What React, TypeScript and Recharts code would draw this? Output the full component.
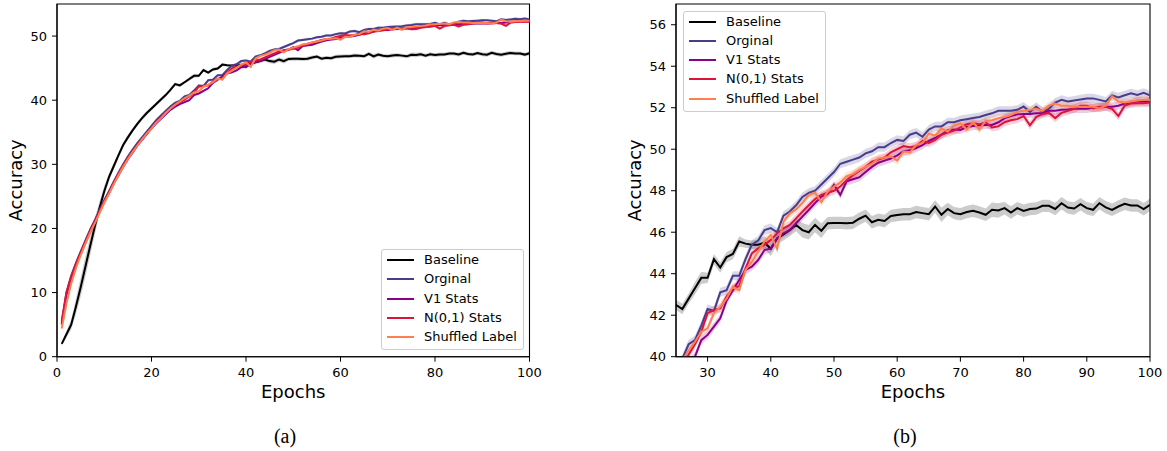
import React from 'react';
import { ComposedChart, Line, Area, XAxis, YAxis, Legend, ReferenceArea, Label } from 'recharts';

// ---------- data ----------
const epochs: number[] = Array.from({ length: 100 }, (_, i) => i + 1);

const seriesNames = ['Baseline', 'Orginal', 'V1 Stats', 'N(0,1) Stats', 'Shuffled Label'];
const seriesKeys = ['baseline', 'orginal', 'v1', 'n01', 'shuffled'];
const seriesColors = ['#000000', '#483D8B', '#8B008B', '#DC143C', '#FF7F50'];

const baseline = [
  2.0, 3.5, 5.0, 7.8, 10.8, 14.0, 17.2, 20.3, 23.2, 25.8,
  28.0, 29.7, 31.4, 33.0, 34.2, 35.3, 36.3, 37.2, 38.0, 38.7,
  39.4, 40.1, 40.8, 41.6, 42.5, 42.3, 42.8, 43.3, 43.8, 43.8,
  44.7, 44.3, 44.8, 44.95, 45.55, 45.45, 45.4, 45.4, 45.5, 45.2,
  45.7, 45.9, 46.1, 46.35, 46.1, 46.0, 46.35, 46.07, 46.43, 46.45,
  46.45, 46.43, 46.46, 46.65, 46.8, 46.48, 46.6, 46.54, 46.78, 46.83,
  46.87, 46.87, 46.97, 46.92, 46.87, 47.24, 46.84, 47.12, 46.92, 46.87,
  46.97, 47.03, 46.95, 46.84, 47.08, 47.05, 47.16, 46.95, 47.16, 47.03,
  47.12, 47.14, 47.27, 47.27, 47.12, 47.4, 47.19, 47.14, 47.35, 47.16,
  47.08, 47.4, 47.2, 47.08, 47.24, 47.37, 47.29, 47.29, 47.11, 47.32,
];

const orginal = [
  5.2, 10.0, 12.6, 14.6, 16.4, 18.1, 19.8, 21.3, 22.9, 24.4,
  25.8, 27.3, 28.7, 30.0, 31.2, 32.3, 33.3, 34.2, 35.1, 36.0,
  36.9, 37.6, 38.3, 39.0, 39.6, 39.9, 40.6, 40.8, 41.5, 42.3,
  42.2, 43.1, 43.2, 43.9, 43.9, 44.7, 45.4, 45.6, 46.1, 46.2,
  46.0, 46.8, 47.0, 47.3, 47.7, 47.9, 48.0, 48.3, 48.6, 48.9,
  49.3, 49.4, 49.5, 49.6, 49.8, 49.9, 50.1, 50.1, 50.3, 50.45,
  50.4, 50.7, 50.8, 50.6, 50.95, 51.1, 51.1, 51.3, 51.3, 51.4,
  51.45, 51.5, 51.55, 51.65, 51.73, 51.85, 51.85, 51.85, 51.9, 52.06,
  51.8, 52.05, 51.8, 51.95, 52.25, 52.38, 52.3, 52.35, 52.4, 52.45,
  52.45, 52.38, 52.3, 52.6, 52.5, 52.6, 52.7, 52.62, 52.72, 52.6,
];

const v1Stats = [
  5.0, 9.6, 12.2, 14.2, 16.0, 17.7, 19.4, 21.0, 22.6, 24.1,
  25.5, 27.0, 28.3, 29.6, 30.8, 31.8, 32.9, 33.8, 34.7, 35.6,
  36.4, 37.1, 37.8, 38.5, 39.0, 39.4, 39.7, 40.0, 40.8, 41.05,
  41.45, 41.85, 42.7, 43.2, 43.7, 44.18, 44.34, 44.66, 45.14, 45.22,
  45.7, 45.95, 46.1, 46.43, 46.75, 47.07, 47.4, 47.72, 47.85, 48.28,
  47.8, 48.45, 48.55, 48.65, 48.9, 49.15, 49.35, 49.45, 49.55, 49.7,
  49.9, 49.95, 50.05, 50.2, 50.4, 50.55, 50.7, 50.9, 50.95, 50.93,
  51.07, 51.12, 51.15, 51.17, 51.17, 51.3, 51.5, 51.6, 51.68, 51.7,
  51.7, 51.73, 51.75, 51.85, 51.85, 51.9, 51.92, 51.95, 51.95, 51.95,
  52.0, 52.0, 52.05, 52.05, 52.1, 52.2, 52.25, 52.3, 52.3, 52.3,
];

const n01Stats = [
  5.6, 10.0, 12.5, 14.4, 16.2, 17.9, 19.6, 21.1, 22.7, 24.2,
  25.6, 27.1, 28.5, 29.8, 31.0, 32.0, 33.0, 33.9, 34.8, 35.7,
  36.6, 37.3, 38.0, 38.7, 39.3, 39.7, 40.1, 40.6, 41.2, 42.1,
  42.25, 42.33, 42.9, 43.3, 43.4, 44.26, 44.98, 45.22, 45.39, 45.63,
  45.95, 46.19, 46.35, 46.67, 46.99, 47.3, 47.6, 47.8, 47.9, 48.0,
  48.2, 48.5, 48.75, 48.95, 49.15, 49.4, 49.5, 49.6, 49.85, 50.0,
  50.15, 50.1, 50.15, 50.4, 50.3, 50.45, 50.7, 50.8, 50.9, 51.05,
  51.2, 51.25, 51.2, 51.3, 51.05, 51.1, 51.3, 51.4, 51.45, 51.6,
  51.15, 51.55, 51.7, 51.75, 51.5, 51.75, 51.85, 51.95, 52.1, 52.1,
  51.97, 52.05, 52.05, 51.95, 51.6, 52.1, 52.2, 52.22, 52.22, 52.25,
];

const shuffledLabel = [
  4.4, 8.3, 11.4, 13.8, 15.8, 17.6, 19.3, 20.8, 22.4, 24.0,
  25.4, 26.9, 28.3, 29.6, 30.8, 31.9, 32.9, 33.9, 34.8, 35.6,
  36.5, 37.2, 38.0, 38.7, 39.3, 39.8, 40.3, 40.72, 41.2, 41.37,
  42.1, 42.4, 42.8, 43.38, 43.2, 44.18, 44.58, 45.06, 45.55, 45.87,
  45.2, 46.5, 46.91, 47.1, 47.4, 47.8, 47.9, 47.45, 47.95, 48.2,
  48.4, 48.7, 48.8, 49.0, 49.15, 49.3, 49.55, 49.6, 49.65, 49.45,
  49.9, 49.85, 50.2, 50.3, 50.75, 50.65, 51.0, 50.85, 51.15, 51.25,
  50.95, 51.3, 50.95, 51.38, 51.4, 51.5, 51.55, 51.65, 51.8, 51.85,
  51.9, 51.95, 51.85, 52.1, 52.2, 52.1, 52.1, 52.05, 52.05, 52.05,
  52.05, 51.97, 52.1, 52.55, 52.3, 52.25, 52.3, 52.35, 52.38, 52.38,
];

// half-width of the shaded band (std) for the baseline, per epoch
const baselineStd = [
  0.3, 0.5, 0.8, 1.2, 1.5, 1.6, 1.5, 1.3, 1.0, 0.8,
  0.6, 0.5, 0.45, 0.4, 0.4, 0.35, 0.35, 0.35, 0.3, 0.3,
  0.3, 0.3, 0.3, 0.3, 0.25, 0.25, 0.25, 0.3, 0.3, 0.25,
  0.25, 0.25, 0.25, 0.25, 0.25, 0.2, 0.2, 0.25, 0.3, 0.35,
  0.3, 0.3, 0.3, 0.3, 0.35, 0.35, 0.35, 0.35, 0.3, 0.3,
  0.3, 0.3, 0.3, 0.3, 0.3, 0.3, 0.3, 0.3, 0.3, 0.3,
  0.3, 0.3, 0.3, 0.3, 0.3, 0.3, 0.35, 0.3, 0.3, 0.3,
  0.3, 0.3, 0.3, 0.3, 0.35, 0.35, 0.3, 0.3, 0.3, 0.3,
  0.3, 0.3, 0.3, 0.3, 0.3, 0.3, 0.3, 0.3, 0.3, 0.3,
  0.3, 0.3, 0.3, 0.3, 0.3, 0.3, 0.3, 0.3, 0.3, 0.3,
];
// constant std for the other runs
const otherStd = [0.22, 0.2, 0.2, 0.2];

const xTicksA = [0, 20, 40, 60, 80, 100];
const yTicksA = [0, 10, 20, 30, 40, 50];
const xTicksB = [30, 40, 50, 60, 70, 80, 90, 100];
const yTicksB = [40, 42, 44, 46, 48, 50, 52, 54, 56];

const seriesValues = [baseline, orginal, v1Stats, n01Stats, shuffledLabel];

const rows = epochs.map((e, i) => {
  const r: any = { epoch: e };
  seriesKeys.forEach((k, s) => {
    const v = seriesValues[s][i];
    const sd = s === 0 ? baselineStd[i] : otherStd[s - 1];
    r[k] = v;
    r[k + 'Band'] = [v - sd, v + sd];
  });
  return r;
});

// ---------- styling ----------
const FONT = 'DejaVu Sans, sans-serif';
const tickStyle = { fontSize: 13, fill: '#000', fontFamily: FONT };

const LegendBox = () => (
  <div
    style={{
      position: 'relative',
      width: 143,
      height: 101,
      boxSizing: 'border-box',
      border: '1px solid #cccccc',
      borderRadius: 3,
      background: 'rgba(255,255,255,0.8)',
      fontFamily: FONT,
      fontSize: 13,
      color: '#000',
    }}
  >
    {seriesNames.map((name, i) => (
      <div key={name} style={{ position: 'absolute', left: 0, top: 10 + i * 19.3 - 10, height: 20, width: 141 }}>
        <div style={{ position: 'absolute', left: 5, top: 9, width: 27, height: 2, background: seriesColors[i] }} />
        <span style={{ position: 'absolute', left: 42, top: 0, lineHeight: '20px', whiteSpace: 'nowrap' }}>{name}</span>
      </div>
    ))}
  </div>
);

type PanelProps = {
  width: number;
  marginLeft: number;
  marginRight: number;
  xDomain: [number, number];
  yDomain: [number, number];
  xTicks: number[];
  yTicks: number[];
  legendLeft: number;
  legendTop: number;
  clip: boolean;
};

const HEIGHT = 451;
const Y_AXIS_W = 40;
const X_AXIS_H = 45;
const TOP = 4;
const BOTTOM = 49.3;

const Panel = (p: PanelProps) => {
  const plotLeft = p.marginLeft + Y_AXIS_W;
  const plotRight = p.width - p.marginRight;
  const plotTop = TOP;
  const plotBottom = HEIGHT - BOTTOM - X_AXIS_H;
  const cx = (plotLeft + plotRight) / 2;
  const cy = (plotTop + plotBottom) / 2;
  const ylx = plotLeft - 35.3;
  return (
    <ComposedChart
      width={p.width}
      height={HEIGHT}
      data={rows}
      margin={{ top: TOP, right: p.marginRight, bottom: BOTTOM, left: p.marginLeft }}
    >
      <XAxis
        dataKey="epoch"
        type="number"
        domain={p.xDomain}
        ticks={p.xTicks}
        allowDataOverflow={p.clip}
        height={X_AXIS_H}
        tick={tickStyle}
        tickSize={5}
        tickMargin={6.5}
        tickLine={{ stroke: '#000', strokeWidth: 1 }}
        axisLine={{ stroke: '#000', strokeWidth: 1.1 }}
        interval={0}
      >
        <Label
          content={() => (
            <text x={cx} y={plotBottom + 40.8} textAnchor="middle" fontSize={18} fontFamily={FONT} fill="#000">
              Epochs
            </text>
          )}
        />
      </XAxis>
      <YAxis
        type="number"
        domain={p.yDomain}
        ticks={p.yTicks}
        allowDataOverflow={p.clip}
        width={Y_AXIS_W}
        tick={tickStyle}
        tickSize={5}
        tickMargin={5}
        tickLine={{ stroke: '#000', strokeWidth: 1 }}
        axisLine={{ stroke: '#000', strokeWidth: 1.1 }}
        interval={0}
      >
        <Label
          content={() => (
            <text
              x={ylx}
              y={cy}
              textAnchor="middle"
              fontSize={18}
              fontFamily={FONT}
              fill="#000"
              transform={`rotate(-90, ${ylx}, ${cy})`}
            >
              Accuracy
            </text>
          )}
        />
      </YAxis>
      {seriesKeys.map((k, i) => (
        <Area
          key={k + 'Band'}
          dataKey={k + 'Band'}
          type="linear"
          stroke="none"
          fill={seriesColors[i]}
          fillOpacity={0.2}
          isAnimationActive={false}
          legendType="none"
          dot={false}
          activeDot={false}
        />
      ))}
      {seriesKeys.map((k, i) => (
        <Line
          key={k}
          dataKey={k}
          name={seriesNames[i]}
          type="linear"
          stroke={seriesColors[i]}
          strokeWidth={2}
          dot={false}
          activeDot={false}
          isAnimationActive={false}
        />
      ))}
      <ReferenceArea
        x1={p.xDomain[0]}
        x2={p.xDomain[1]}
        y1={p.yDomain[0]}
        y2={p.yDomain[1]}
        fill="none"
        stroke="#000"
        strokeWidth={1.1}
        ifOverflow="visible"
      />
      <Legend
        layout="horizontal"
        align="center"
        verticalAlign="middle"
        content={() => <LegendBox />}
        wrapperStyle={{ left: p.legendLeft, top: p.legendTop, width: 143, height: 101, margin: 0, padding: 0 }}
      />
    </ComposedChart>
  );
};

const Caption = ({ text, left }: { text: string; left: number }) => (
  <div
    style={{
      position: 'absolute',
      left: left - 40,
      width: 80,
      top: 423,
      textAlign: 'center',
      fontFamily: 'Liberation Serif, Times New Roman, serif',
      fontSize: 20,
      lineHeight: '26px',
      color: '#000',
    }}
  >
    {text}
  </div>
);

export default function App() {
  return (
    <div style={{ position: 'absolute', left: 0, top: 0, width: 1167, height: 451, background: '#fff', overflow: 'hidden' }}>
      <div style={{ position: 'absolute', left: 0, top: 0 }}>
        <Panel
          width={560}
          marginLeft={17}
          marginRight={30.5}
          xDomain={[0, 100]}
          yDomain={[0, 55]}
          xTicks={xTicksA}
          yTicks={yTicksA}
          legendLeft={381}
          legendTop={249}
          clip={false}
        />
      </div>
      <div style={{ position: 'absolute', left: 590, top: 0 }}>
        <Panel
          width={577}
          marginLeft={46}
          marginRight={17}
          xDomain={[25, 100]}
          yDomain={[40, 57]}
          xTicks={xTicksB}
          yTicks={yTicksB}
          legendLeft={93}
          legendTop={10.5}
          clip={true}
        />
      </div>
      <Caption text="(a)" left={285} />
      <Caption text="(b)" left={905} />
    </div>
  );
}
